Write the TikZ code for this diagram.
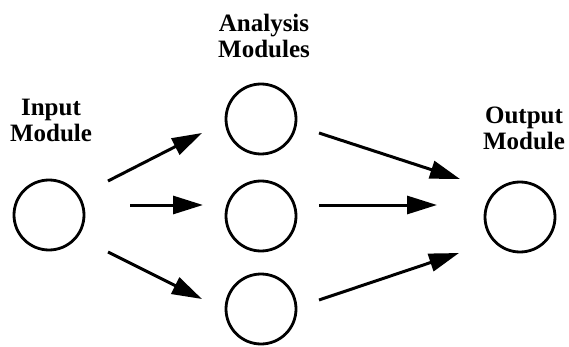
\documentclass[tikz,border=0pt]{standalone}
\usepackage{fontspec}
\setmainfont{Liberation Serif}
\usetikzlibrary{arrows.meta}
\begin{document}
\begin{tikzpicture}[x=1pt,y=-1pt,
  module/.style={circle,draw,line width=2.8pt,minimum size=70pt,inner sep=0pt},
  lbl/.style={align=center,inner sep=0pt,anchor=base,font=\fontsize{25}{26}\selectfont\bfseries},
  conn/.style={line width=3pt,-{Triangle[length=30pt,width=18pt]}}]
\useasboundingbox (0,0) rectangle (569,347);
\node[module] (in) at (49,215) {};
\node[module] (a1) at (261,119) {};
\node[module] (a2) at (261,216) {};
\node[module] (a3) at (261,309) {};
\node[module] (out) at (520,217) {};
\node[lbl] (inlbl) at (51,142) {Input\\Module};
\node[lbl] (anlbl) at (264,58) {Analysis\\Modules};
\node[lbl] (outlbl) at (524,150) {Output\\Module};
\coordinate (s1) at (108,181); \coordinate (e1) at (202,133);
\coordinate (s2) at (130,205); \coordinate (e2) at (203,205);
\coordinate (s3) at (108,252); \coordinate (e3) at (202,299);
\coordinate (s4) at (319,133); \coordinate (e4) at (460,179);
\coordinate (s5) at (319,205); \coordinate (e5) at (437,205);
\coordinate (s6) at (319,300); \coordinate (e6) at (459,253);
\draw[conn] (s1) -- (e1);
\draw[conn] (s2) -- (e2);
\draw[conn] (s3) -- (e3);
\draw[conn] (s4) -- (e4);
\draw[conn] (s5) -- (e5);
\draw[conn] (s6) -- (e6);
\end{tikzpicture}
\end{document}
